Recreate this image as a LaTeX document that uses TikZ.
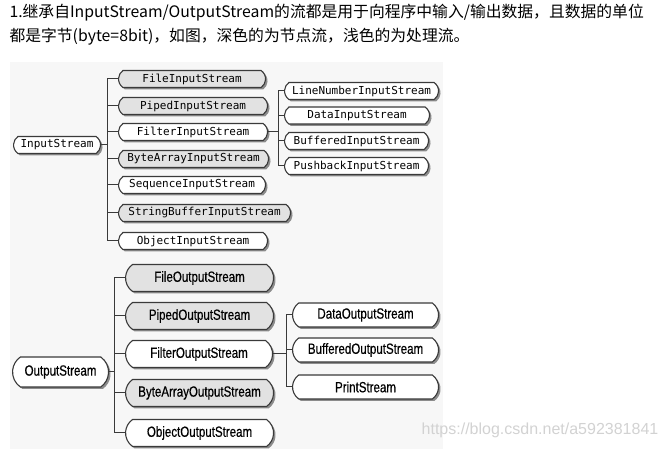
\documentclass[tikz,border=0pt]{standalone}
\usepackage{fontspec}
\setmainfont{Noto Sans CJK SC}
\newfontfamily\monofont{DejaVu Sans Mono}
\newfontfamily\narrowfont[FakeStretch=0.78,FakeBold=0.5]{Liberation Sans}
\newfontfamily\webfont{Liberation Sans}
\usetikzlibrary{shapes.misc,shadows}
\definecolor{nodegray}{HTML}{E2E2E2}
\definecolor{linegray}{HTML}{3A3A3A}
\definecolor{backgray}{HTML}{F7F7F7}
\begin{document}
\begin{tikzpicture}[x=1pt,y=-1pt]
        \tikzstyle{stream}=[rounded rectangle, rounded rectangle arc length=110, draw=linegray, line width=1.1pt, fill=white, inner sep=0pt, minimum height=17pt, anchor=west, drop shadow={shadow xshift=2pt,shadow yshift=-2pt,fill=black!45,opacity=1}, font=\monofont\fontsize{11}{11}\selectfont]
        \tikzstyle{nodestream}=[stream, fill=nodegray]
        \tikzstyle{outstream}=[stream, minimum height=27pt, font=\narrowfont\fontsize{14.8}{14.8}\selectfont]
        \tikzstyle{outnodestream}=[outstream, fill=nodegray]
        \tikzstyle{conn}=[draw=linegray, line width=1pt]
        \useasboundingbox (0,0) rectangle (665,449);
        \fill[backgray] (10,62) rectangle (443,449);
        \node[anchor=west, font=\fontsize{15.8}{15.8}\selectfont] (line1) at (6,13) {1.继承自InputStream/OutputStream的流都是用于向程序中输入/输出数据，且数据的单位};
        \node[anchor=west, font=\fontsize{15.8}{15.8}\selectfont] (line2) at (6,37) {都是字节(byte=8bit)，如图，深色的为节点流，浅色的为处理流。};
        % input side
        \node[stream, minimum width=87pt] (InputStream) at (13,145) {InputStream};
        \node[nodestream, minimum width=147pt] (FileIn) at (118,79) {FileInputStream};
        \node[nodestream, minimum width=149pt] (PipedIn) at (118,106) {PipedInputStream};
        \node[stream, minimum width=149pt] (FilterIn) at (118,132) {FilterInputStream};
        \node[nodestream, minimum width=150pt] (ByteArrayIn) at (118,159) {ByteArrayInputStream};
        \node[stream, minimum width=147pt] (SequenceIn) at (118,185) {SequenceInputStream};
        \node[nodestream, minimum width=172pt] (StringBufferIn) at (118,213) {StringBufferInputStream};
        \node[stream, minimum width=149pt] (ObjectIn) at (118,241) {ObjectInputStream};
        \node[stream, minimum width=154pt] (LineNumberIn) at (284,91) {LineNumberInputStream};
        \node[stream, minimum width=145pt] (DataIn) at (284,115.5) {DataInputStream};
        \node[stream, minimum width=144pt] (BufferedIn) at (284,141) {BufferedInputStream};
        \node[stream, minimum width=144pt] (PushbackIn) at (284,166) {PushbackInputStream};
        \foreach \child in {FileIn,PipedIn,FilterIn,ByteArrayIn,SequenceIn,StringBufferIn,ObjectIn}
            \draw[conn] (InputStream.east) -- ++(6,0) |- (\child.west);
        \foreach \child in {LineNumberIn,DataIn,BufferedIn,PushbackIn}
            \draw[conn] (FilterIn.east) -- ++(10,0) |- (\child.west);
        % output side
        \node[outstream, minimum width=96pt, minimum height=30pt] (OutputStream) at (12,372) {OutputStream};
        \node[outnodestream, minimum width=148pt] (FileOut) at (125,278) {FileOutputStream};
        \node[outnodestream, minimum width=148pt] (PipedOut) at (125,316) {PipedOutputStream};
        \node[outstream, minimum width=147pt] (FilterOut) at (125,354) {FilterOutputStream};
        \node[outnodestream, minimum width=148pt] (ByteArrayOut) at (125,393) {ByteArrayOutputStream};
        \node[outstream, minimum width=148pt] (ObjectOut) at (125,433) {ObjectOutputStream};
        \node[outstream, minimum width=146pt, minimum height=24pt] (DataOut) at (292,315) {DataOutputStream};
        \node[outstream, minimum width=146pt, minimum height=24pt] (BufferedOut) at (292,350) {BufferedOutputStream};
        \node[outstream, minimum width=146pt, minimum height=24pt] (PrintOut) at (292,387) {PrintStream};
        \foreach \child in {FileOut,PipedOut,FilterOut,ByteArrayOut,ObjectOut}
            \draw[conn] (OutputStream.east) -- ++(5,0) |- (\child.west);
        \foreach \child in {DataOut,BufferedOut,PrintOut}
            \draw[conn] (FilterOut.east) -- ++(13,0) |- (\child.west);
        \node[text=gray!35, font=\webfont\fontsize{16}{16}\selectfont] (mark) at (540,430) {https://blog.csdn.net/a592381841};
\end{tikzpicture}
\end{document}
